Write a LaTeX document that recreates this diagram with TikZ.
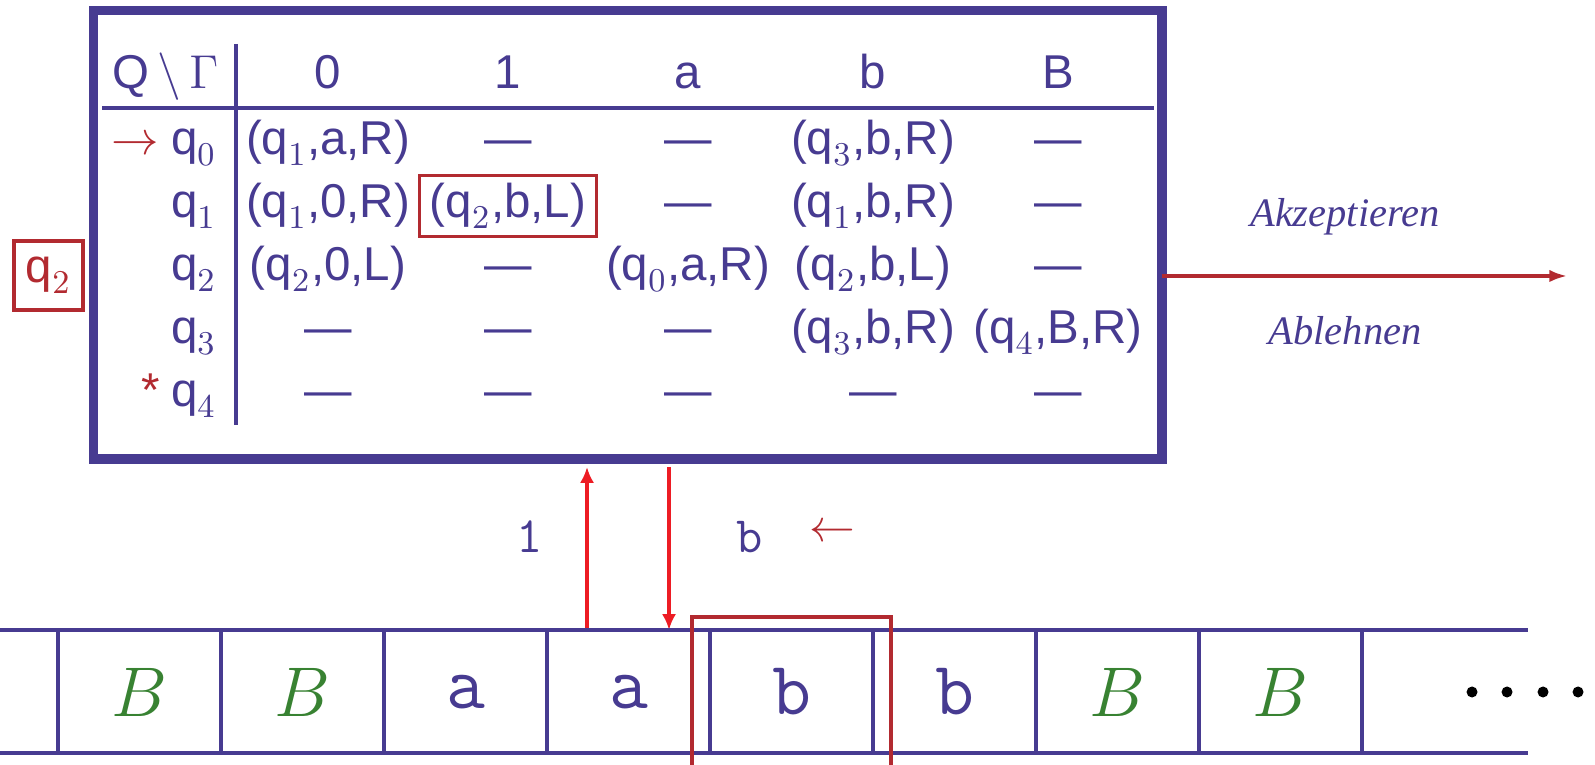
\documentclass[tikz,border=0pt]{standalone}
\usepackage{fix-cm}
\usepackage{fontspec}
\usepackage{amsmath}
\usepackage{tikz}
\usetikzlibrary{arrows.meta}

\newfontfamily\tmsans{Liberation Sans}
\newfontfamily\tmserif{Liberation Serif}

\definecolor{tmblue}{RGB}{71,59,145}
\definecolor{tmred}{RGB}{178,42,48}
\definecolor{tmbright}{RGB}{237,28,36}
\definecolor{tmgreen}{RGB}{56,130,50}

\newcommand{\qst}[1]{q\raisebox{-1pt}{$_{#1}$}}
\newcommand{\trans}[3]{(\qst{#1},#2,#3)}
\newcommand{\nix}{\textemdash}

\begin{document}
\begin{tikzpicture}[x=0.01cm, y=-0.01cm,
    txt/.style={anchor=base, text=tmblue, inner sep=0pt, font=\fontsize{13.5}{16}\selectfont\tmsans},
    outtext/.style={anchor=base, text=tmblue, font=\fontsize{11.5}{14}\selectfont\tmserif\itshape},
    tapeline/.style={tmblue, line width=1pt},
    tapesym/.style={text=tmblue, font=\fontsize{21.5}{24}\selectfont\ttfamily},
    blanksym/.style={text=tmgreen, font=\fontsize{20}{24}\selectfont},
    smallsym/.style={text=tmblue, font=\fontsize{14.5}{17}\selectfont\ttfamily},
    headarrow/.style={tmbright, line width=1pt, -{Latex[length=4.5pt,width=4pt]}}]

    \useasboundingbox (0,0) rectangle (1595,765);

    % Table frame
    \draw[tmblue, line width=2.6pt] (93.5,10.5) rectangle (1162,459);
    \draw[tmblue, line width=1pt] (102,108) -- (1154,108);
    \draw[tmblue, line width=0.9pt] (236,44) -- (236,425);

    % Header
    \node[txt, anchor=base east] (corner) at (219,89) {Q\,$\backslash$\,$\Gamma$};
    \foreach \x/\sym [count=\i] in {328/0, 508/1, 688/a, 873/b, 1058/B}
        \node[txt] (head\i) at (\x,89) {\sym};

    % Rows of the transition table
    \foreach \y/\ea/\eb/\ec/\ed/\ee [count=\r from 0] in {
        155/{\trans{1}{a}{R}}/\nix/\nix/{\trans{3}{b}{R}}/\nix,
        218/{\trans{1}{0}{R}}/{}/\nix/{\trans{1}{b}{R}}/\nix,
        281/{\trans{2}{0}{L}}/\nix/{\trans{0}{a}{R}}/{\trans{2}{b}{L}}/\nix,
        344/\nix/\nix/\nix/{\trans{3}{b}{R}}/{\trans{4}{B}{R}},
        407/\nix/\nix/\nix/\nix/\nix}
    {
        \node[txt, anchor=base east] (q\r) at (217,\y) {\qst{\r}};
        \node[txt] (e\r-1) at (328,\y) {\ea};
        \node[txt] (e\r-2) at (508,\y) {\eb};
        \node[txt] (e\r-3) at (688,\y) {\ec};
        \node[txt] (e\r-4) at (873,\y) {\ed};
        \node[txt] (e\r-5) at (1058,\y) {\ee};
    }

    % current move
    \node[txt, draw=tmred, line width=0.9pt, inner xsep=3pt, inner ysep=2.3pt] (move) at (508,218) {\trans{2}{b}{L}};

    % start and final marks
    \node[txt, text=tmred] (start) at (135,155) {$\rightarrow$};
    \node[txt, text=tmred] (final) at (151,407) {*};

    % current state
    \node[draw=tmred, line width=0.9pt, text=tmred, minimum width=0.69cm, minimum height=0.69cm,
          font=\fontsize{13.5}{16}\selectfont\tmsans] (state) at (48.5,275.5) {\qst{2}};

    % Output
    \coordinate (exit) at (1162,276);
    \coordinate (out) at (1567,276);
    \draw[tmred, line width=0.9pt, -{Latex[length=5pt,width=3.5pt]}] (exit) -- (out);
    \node[outtext] (acc) at (1345,227) {Akzeptieren};
    \node[outtext] (rej) at (1345,345) {Ablehnen};

    % Read / write
    \coordinate (readbot) at (587,630);
    \coordinate (readtop) at (587,467);
    \coordinate (writetop) at (669,467);
    \coordinate (writebot) at (669,630);
    \draw[headarrow] (readbot) -- (readtop);
    \draw[headarrow] (writetop) -- (writebot);
    \node[smallsym] (readsym) at (530,537) {1};
    \node[smallsym] (writesym) at (750,537) {b};
    \node[text=tmred, font=\fontsize{13}{15}\selectfont] (dir) at (832,533) {$\leftarrow$};

    % Tape
    \draw[tapeline] (0,630) -- (1528,630);
    \draw[tapeline] (0,753) -- (1528,753);
    \foreach \x in {58,221,...,1362}
        \draw[tapeline] (\x,630) -- (\x,753);
    \foreach \i in {1,2,7,8}
        \node[blanksym] (cell\i) at ({139.5+163*(\i-1)},692) {$B$};
    \foreach \i/\sym in {3/a,4/a,5/b,6/b}
        \node[tapesym] (cell\i) at ({139.5+163*(\i-1)},692) {\sym};
    \foreach \x in {1472,1507,1543,1578}
        \fill (\x,692) circle[radius=0.55mm];

    % Head
    \draw[tmred, line width=1pt] (692,770) -- (692,617) -- (891,617) -- (891,770);

\end{tikzpicture}
\end{document}
